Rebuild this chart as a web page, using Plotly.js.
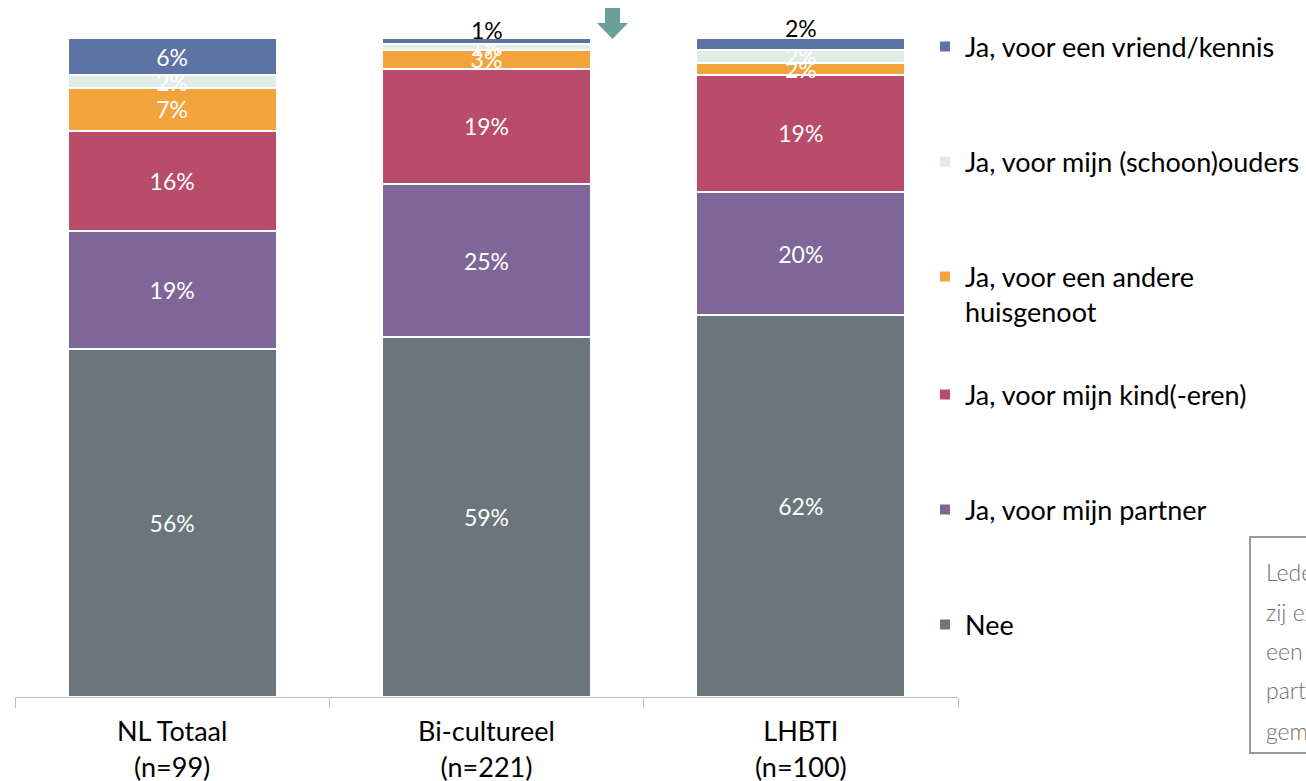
<!DOCTYPE html>
<html>
<head>
<meta charset="utf-8">
<script src="https://cdn.plot.ly/plotly-3.0.1.min.js"></script>
<style>html,body{margin:0;padding:0;background:#fff;overflow:hidden}#chart{width:1306px;height:781px}</style>
</head>
<body>
<div id="chart"></div>
<script>
const categories = ['NL Totaal<br>(n=99)', 'Bi-cultureel<br>(n=221)', 'LHBTI<br>(n=100)'];
const seriesNames = ['Nee', 'Ja, voor mijn partner', 'Ja, voor mijn kind(-eren)', 'Ja, voor een andere<br>huisgenoot', 'Ja, voor mijn (schoon)ouders', 'Ja, voor een vriend/kennis'];
const nee = [56, 59, 62];
const partner = [19, 25, 20];
const kind = [16, 19, 19];
const huisgenoot = [7, 3, 2];
const ouders = [2, 1, 2];
const vriend = [6, 1, 2];
const colors = ['#6a767b', '#7f6699', '#b94c69', '#f2a33c', '#e1ebe8', '#5d73a3'];
const boxLines = ['Leden van de groep geven aan dat', 'zij extra zorgtaken hebben voor', 'een ander lid van het huishouden,', 'partner of familie, vaker dan', 'gemiddeld'];

const seriesValues = [nee, partner, kind, huisgenoot, ouders, vriend];
const legendIds = ['legend6', 'legend5', 'legend4', 'legend3', 'legend2', 'legend'];
const legendPy = [625, 510, 395, 294.5, 162, 47];
const boxLinePy = [572, 612, 651, 690, 731];
// top segment labels drawn above the bar (black) for these categories
const aboveTop = [false, true, true];

const plotLeft = 15, plotRight = 958, plotTop = 38, plotBottom = 697;
const pw = plotRight - plotLeft, ph = plotBottom - plotTop;
const px2x = p => (p - plotLeft) / pw;
const py2y = p => (plotBottom - p) / ph;

const traces = seriesValues.map((vals, i) => {
  const isTop = i === seriesValues.length - 1;
  return {
    type: 'bar',
    name: seriesNames[i],
    x: categories,
    y: vals,
    text: vals.map((v, j) => (isTop && aboveTop[j]) ? '' : v + '%'),
    texttemplate: '%{text}',
    textposition: 'inside',
    insidetextanchor: 'middle',
    constraintext: 'none',
    cliponaxis: false,
    textfont: {family: 'Lato, sans-serif', size: 23, color: '#ffffff'},
    marker: {color: colors[i], line: {color: '#ffffff', width: 2}},
    legend: legendIds[i],
    hoverinfo: 'skip'
  };
});

const topAnnotations = categories.map((c, j) => aboveTop[j] ? {
  xref: 'x', yref: 'y', x: c, y: 100, yanchor: 'middle', yshift: j === 1 ? 8 : 10,
  showarrow: false, text: vriend[j] + '%',
  font: {family: 'Lato, sans-serif', size: 23, color: '#000000'}
} : null).filter(a => a);

const boxAnnotations = boxLines.map((t, i) => ({
  xref: 'paper', yref: 'paper', x: px2x(1264), y: py2y(boxLinePy[i]), xanchor: 'left', yanchor: 'middle', align: 'left',
  showarrow: false, text: t,
  font: {family: 'Lato, sans-serif', size: 23, color: '#6f6f6f', weight: 300}
}));

const layout = {
  width: 1306, height: 781,
  margin: {l: plotLeft, r: 1306 - plotRight, t: plotTop, b: 781 - plotBottom, autoexpand: false},
  paper_bgcolor: '#ffffff', plot_bgcolor: '#ffffff',
  barmode: 'stack', barnorm: 'percent', bargap: 0.335,
  font: {family: 'Lato, sans-serif', color: '#000000'},
  xaxis: {
    type: 'category', showline: true, linecolor: '#bfbfbf', linewidth: 1,
    ticks: 'outside', tickson: 'boundaries', ticklen: 10, tickcolor: '#bfbfbf',
    tickfont: {family: 'Lato, sans-serif', size: 27, color: '#000000'},
    ticklabelstandoff: 11, showgrid: false, zeroline: false, fixedrange: true, automargin: false
  },
  yaxis: {range: [0, 100], visible: false, showgrid: false, zeroline: false, fixedrange: true},
  showlegend: true,
  shapes: [
    {type: 'path', xref: 'paper', yref: 'paper',
     path: 'M' + px2x(605) + ',' + py2y(8) + ' L' + px2x(620) + ',' + py2y(8) + ' L' + px2x(620) + ',' + py2y(23) +
           ' L' + px2x(628) + ',' + py2y(23) + ' L' + px2x(612.5) + ',' + py2y(39) + ' L' + px2x(597) + ',' + py2y(23) +
           ' L' + px2x(605) + ',' + py2y(23) + ' Z',
     fillcolor: '#6aa099', line: {width: 0}},
    {type: 'rect', xref: 'paper', yref: 'paper', x0: px2x(1250), x1: px2x(1500), y0: py2y(753), y1: py2y(537),
     line: {color: '#9a9a9a', width: 2}, fillcolor: 'rgba(0,0,0,0)'}
  ],
  annotations: topAnnotations.concat(boxAnnotations)
};

legendIds.forEach((id, i) => {
  layout[id] = {
    x: px2x(925), xanchor: 'left', y: py2y(legendPy[i]), yanchor: 'middle',
    valign: 'top', bgcolor: 'rgba(0,0,0,0)', borderwidth: 0,
    font: {family: 'Lato, sans-serif', size: 27, color: '#000000'},
    itemclick: false, itemdoubleclick: false
  };
});

Plotly.newPlot('chart', traces, layout, {displayModeBar: false, staticPlot: true});
</script>
</body>
</html>
